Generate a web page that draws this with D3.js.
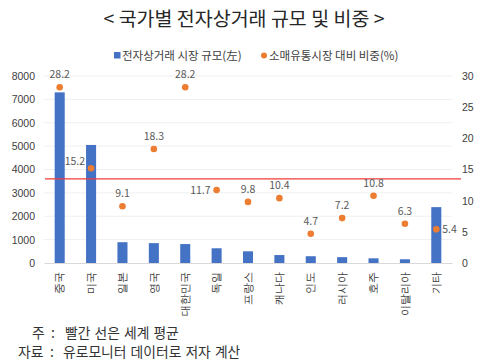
<!DOCTYPE html>
<html>
<head>
<meta charset="utf-8">
<script src="https://d3js.org/d3.v7.min.js"></script>
<style>
  body { margin: 0; background: #fff; }
  svg { font-family: "Noto Sans CJK KR", "Noto Sans", sans-serif; }
  .tick text { fill: #404040; font-size: 10.5px; }
</style>
</head>
<body>
<svg id="chart" width="503" height="364"></svg>
<script>
  const countries = ["중국", "미국", "일본", "영국", "대한민국", "독일", "프랑스", "캐나다", "인도", "러시아", "호주", "이탈리아", "기타"];
  const marketSize = [7300, 5050, 890, 850, 810, 630, 500, 340, 290, 250, 200, 160, 2390];
  const retailShare = [28.2, 15.2, 9.1, 18.3, 28.2, 11.7, 9.8, 10.4, 4.7, 7.2, 10.8, 6.3, 5.4];
  const worldAverage = 13.5;
  const leftTicks = [0, 1000, 2000, 3000, 4000, 5000, 6000, 7000, 8000];
  const rightTicks = [0, 5, 10, 15, 20, 25, 30];

  // where each value label sits relative to its dot
  const labelPos = { "미국": "left", "독일": "left", "기타": "right" };

  const svg = d3.select("#chart");
  const margin = { top: 76, right: 51, bottom: 101, left: 44 };
  const width = 503 - margin.left - margin.right;
  const height = 364 - margin.top - margin.bottom;

  const x = d3.scaleBand().domain(countries).range([0, width]).paddingInner(0.68).paddingOuter(0.34);
  const yL = d3.scaleLinear().domain([0, 8000]).range([height, 0]);
  const yR = d3.scaleLinear().domain([0, 30]).range([height, 0]);

  // title
  svg.append("text")
    .attr("x", 244).attr("y", 26)
    .attr("text-anchor", "middle")
    .attr("font-size", 19.5)
    .attr("fill", "#262626")
    .text("< 국가별 전자상거래 규모 및 비중 >");

  // legend
  const legend = svg.append("g").attr("font-size", 11.5).attr("fill", "#404040");
  legend.append("rect").attr("x", 114).attr("y", 52).attr("width", 6.5).attr("height", 6.5).attr("fill", "#4472C4");
  legend.append("text").attr("x", 122).attr("y", 59.5).text("전자상거래 시장 규모(左)");
  legend.append("circle").attr("cx", 264).attr("cy", 55.5).attr("r", 3).attr("fill", "#ED7D31");
  legend.append("text").attr("x", 269).attr("y", 59.5).text("소매유통시장 대비 비중(%)");

  const g = svg.append("g").attr("transform", "translate(" + margin.left + "," + margin.top + ")");

  // gridlines
  g.append("g").selectAll("line")
    .data(leftTicks.slice(1))
    .join("line")
    .attr("x1", 0).attr("x2", width)
    .attr("y1", d => yL(d)).attr("y2", d => yL(d))
    .attr("stroke", "#EFEFEF").attr("stroke-width", 1);

  // left axis
  g.append("g")
    .call(d3.axisLeft(yL).tickValues(leftTicks).tickSize(0).tickPadding(9).tickFormat(d3.format("d")))
    .call(a => a.select(".domain").remove());

  // right axis
  g.append("g")
    .attr("transform", "translate(" + width + ",0)")
    .call(d3.axisRight(yR).tickValues(rightTicks).tickSize(0).tickPadding(10))
    .call(a => a.select(".domain").remove());

  // bars
  g.selectAll("rect.bar")
    .data(countries)
    .join("rect")
    .attr("class", "bar")
    .attr("x", d => x(d))
    .attr("width", x.bandwidth())
    .attr("y", (d, i) => yL(marketSize[i]))
    .attr("height", (d, i) => height - yL(marketSize[i]))
    .attr("fill", "#4472C4");

  // x axis
  const xAxis = g.append("g")
    .attr("transform", "translate(0," + height + ")")
    .call(d3.axisBottom(x).tickSize(0).tickPadding(0));
  xAxis.select(".domain").attr("stroke", "#D9D9D9");
  xAxis.selectAll(".tick text")
    .attr("transform", "rotate(-90)")
    .attr("text-anchor", "end")
    .attr("dx", "-9")
    .attr("dy", "0.35em")
    .attr("y", 0)
    .attr("x", 0);

  // world average line
  g.append("line")
    .attr("x1", 1).attr("x2", width + 9)
    .attr("y1", yR(worldAverage)).attr("y2", yR(worldAverage))
    .attr("stroke", "#F33B3B").attr("stroke-width", 1.2);

  // dots
  const cx = d => x(d) + x.bandwidth() / 2;
  g.selectAll("circle.dot")
    .data(countries)
    .join("circle")
    .attr("class", "dot")
    .attr("cx", cx)
    .attr("cy", (d, i) => yR(retailShare[i]))
    .attr("r", 3.3)
    .attr("fill", "#ED7D31");

  // value labels
  g.selectAll("text.val")
    .data(countries)
    .join("text")
    .attr("class", "val")
    .attr("font-size", 10.5)
    .attr("fill", "#595959")
    .attr("text-anchor", d => labelPos[d] === "left" ? "end" : labelPos[d] === "right" ? "start" : "middle")
    .attr("x", d => labelPos[d] === "left" ? cx(d) - 6 : labelPos[d] === "right" ? cx(d) + 6 : cx(d))
    .attr("y", (d, i) => {
      const cy = yR(retailShare[i]);
      if (labelPos[d] === "left" && d === "미국") return cy - 3;
      if (labelPos[d]) return cy + 4;
      return cy - 9;
    })
    .text((d, i) => retailShare[i].toFixed(1));

  // notes, colons lined up
  const notes = svg.append("g").attr("font-size", 13.8).attr("fill", "#333");
  notes.append("text").attr("x", 32).attr("y", 338).text("주");
  notes.append("text").attr("x", 53).attr("y", 338).attr("text-anchor", "middle").text(":");
  notes.append("text").attr("x", 65).attr("y", 338).attr("word-spacing", 1).text("빨간 선은 세계 평균");
  notes.append("text").attr("x", 18).attr("y", 357).text("자료");
  notes.append("text").attr("x", 52).attr("y", 357).attr("text-anchor", "middle").text(":");
  notes.append("text").attr("x", 63).attr("y", 357).attr("word-spacing", 1).text("유로모니터 데이터로 저자 계산");
</script>
</body>
</html>
